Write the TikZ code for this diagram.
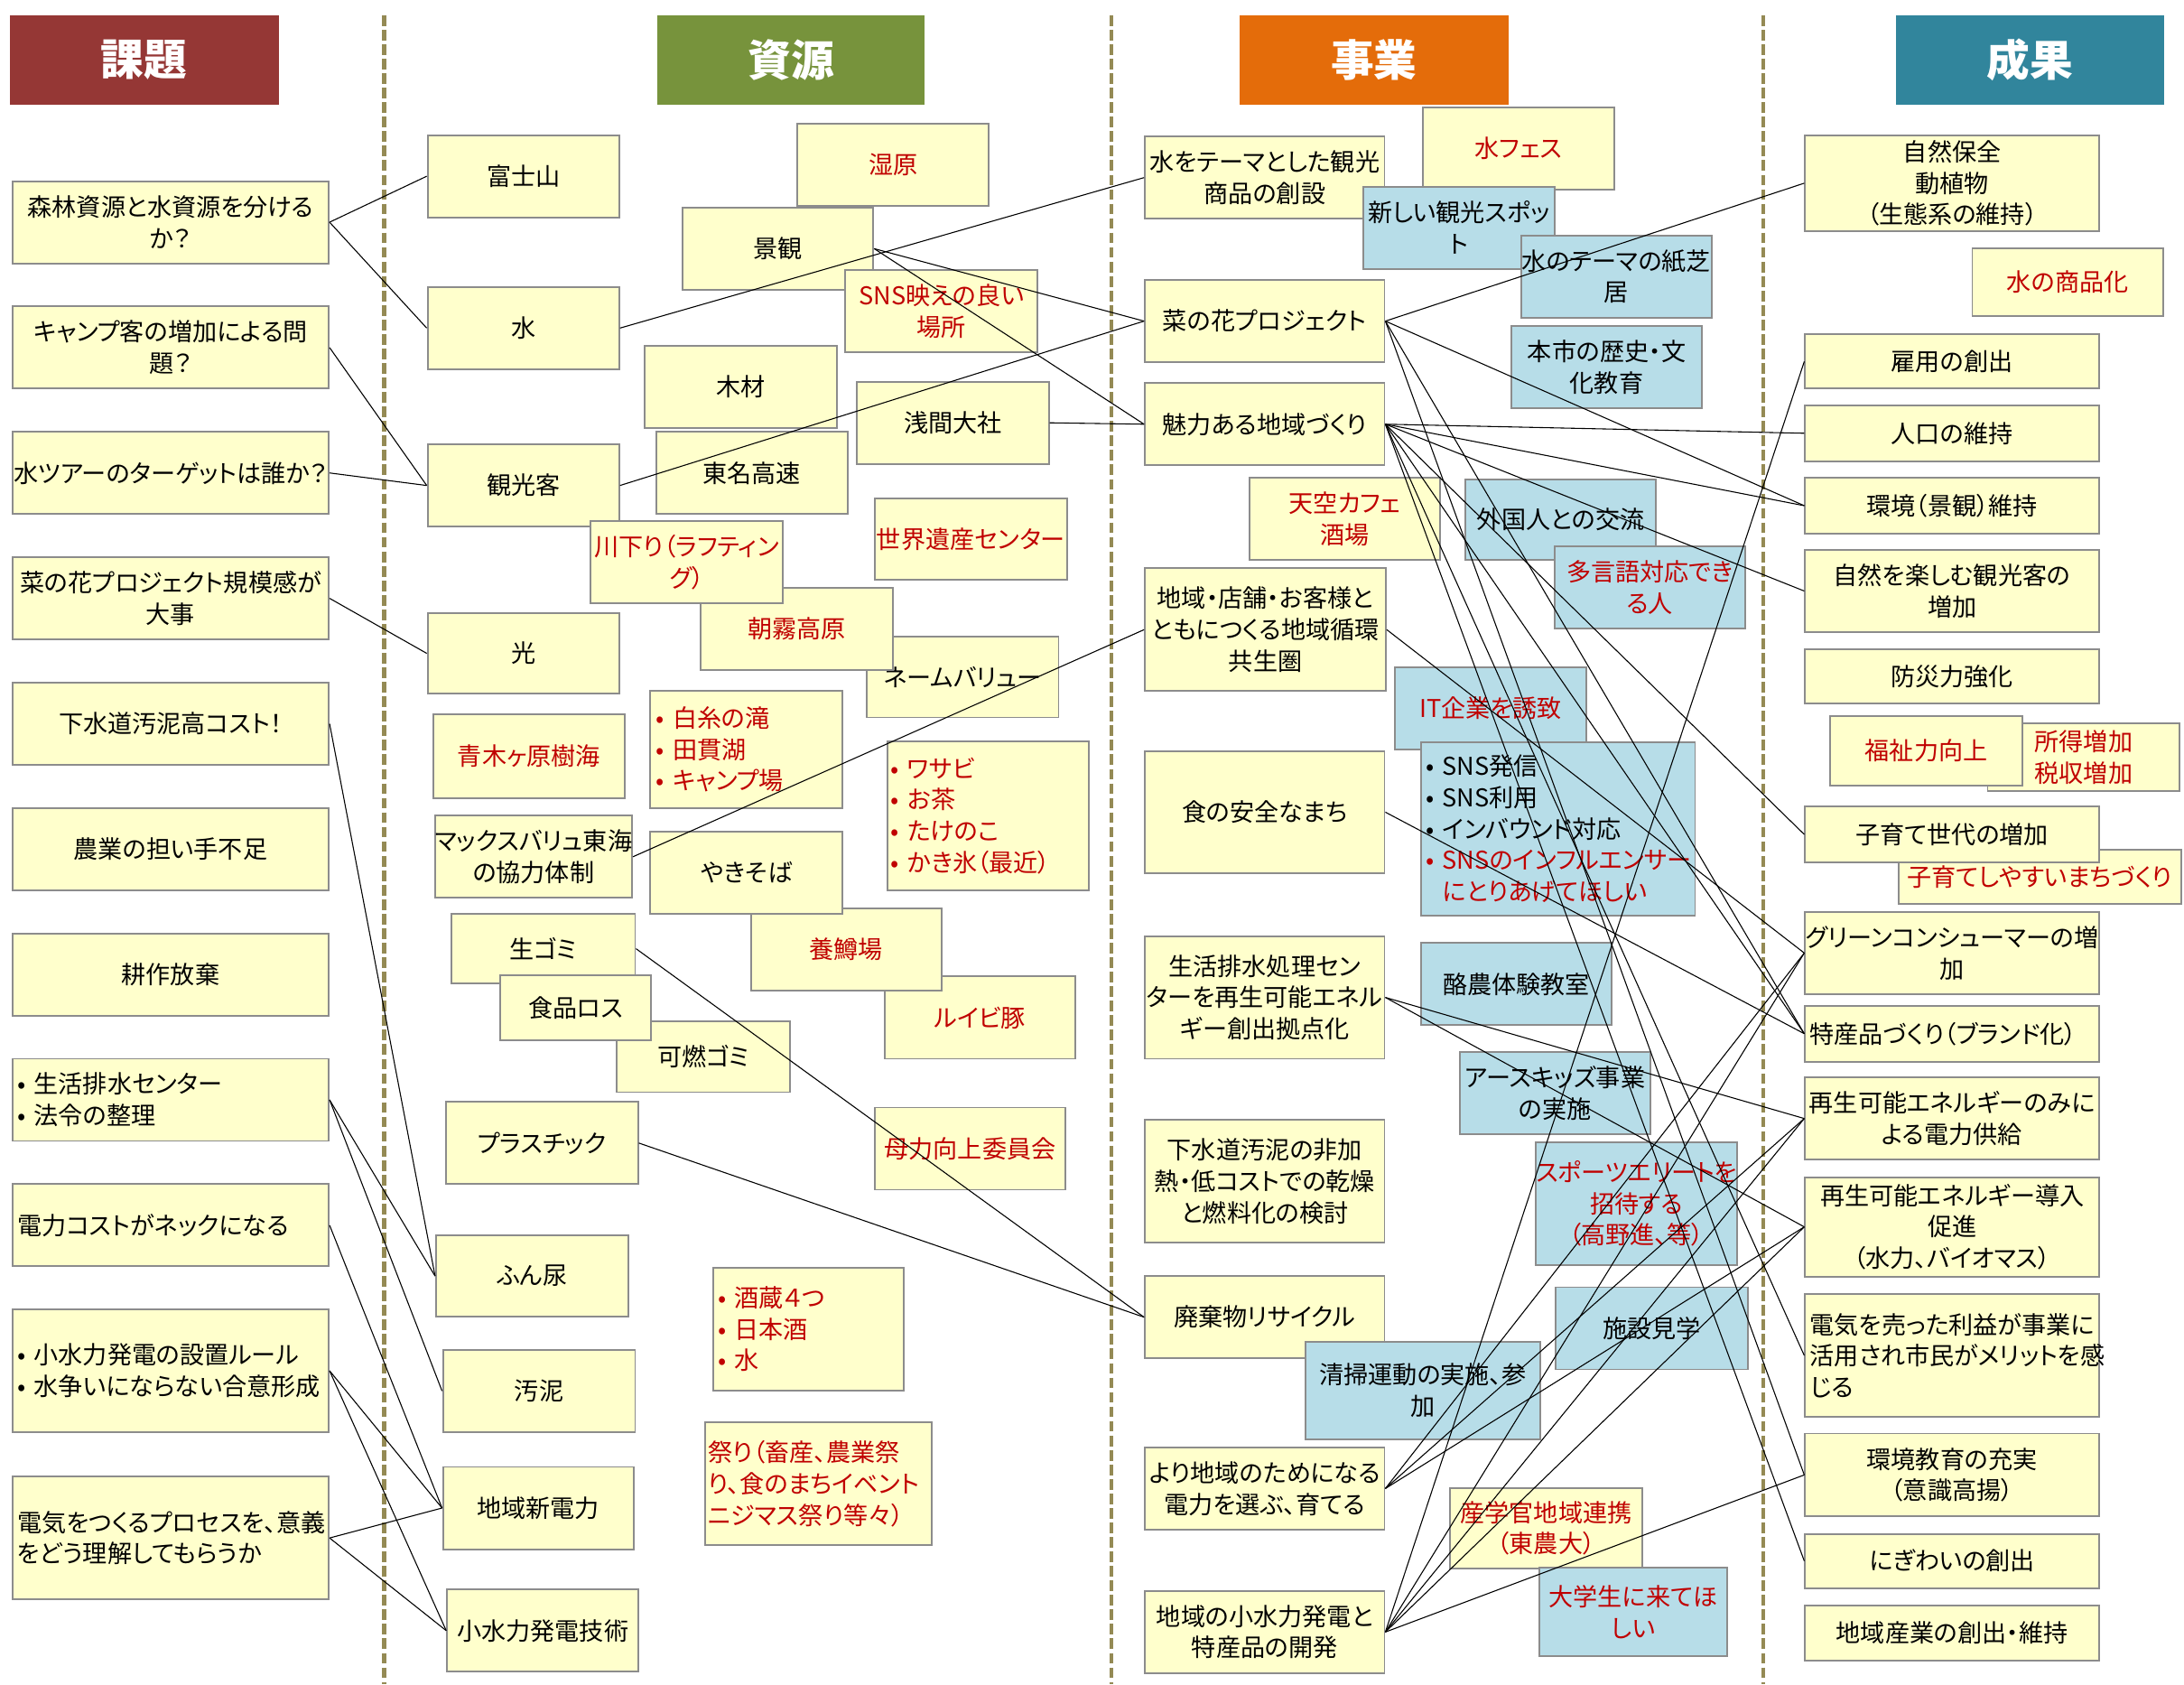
\documentclass[tikz,border=0pt]{standalone}
\usepackage{fontspec}
\setmainfont{Noto Sans CJK JP}[RawFeature=+palt]
\definecolor{boxfill}{HTML}{FFFFCC}
\definecolor{bluefill}{HTML}{B7DDE8}
\definecolor{boxline}{HTML}{8C8C8C}
\definecolor{redtext}{HTML}{C00000}
\definecolor{kadai}{HTML}{953735}
\definecolor{shigen}{HTML}{77933C}
\definecolor{jigyo}{HTML}{E46C0A}
\definecolor{seika}{HTML}{31859C}
\definecolor{sepcol}{HTML}{948A54}
\newcommand\bul{\makebox[0.3cm][l]{•}}
\tikzset{
  rect/.style n args={4}{at={(0.5*#1+0.5*#3,0.5*#2+0.5*#4)},
    minimum width=(#3-#1)*0.025cm, minimum height=(#4-#2)*0.025cm},
  box/.style={draw=boxline, fill=boxfill, line width=0.9pt, inner sep=0pt,
    align=center, font=\fontsize{12.5}{16}\selectfont},
  bbox/.style={box, fill=bluefill},
  rbox/.style={box, text=redtext},
  head/.style={fill=#1, inner sep=0pt, text=white,
    font=\fontsize{22}{24}\selectfont\bfseries},
  colsep/.style={draw=sepcol, line width=2.2pt, dash pattern=on 0.19cm off 0.07cm},
  link/.style={black, line width=0.5pt}
}
\begin{document}
\begin{tikzpicture}[x=0.025cm, y=-0.025cm]
\fill[white] (0,0) rectangle (1568,1209);
\useasboundingbox (0,0) rectangle (1568,1209);
% column separators
\foreach \sx in {276,798,1266}
  \draw[colsep] (\sx,11) -- (\sx,1209);
% headers
\node[head=kadai, rect={7}{11}{200}{75}] (hK) {課題};
\node[head=shigen, rect={472}{11}{664}{75}] (hS) {資源};
\node[head=jigyo, rect={890}{11}{1083}{75}] (hJ) {事業};
\node[head=seika, rect={1361}{11}{1554}{75}] (hR) {成果};
% 課題
\node[box, rect={9}{130}{236}{189}] (k1) {森林資源と水資源を分ける\\か？};
\node[box, rect={9}{220}{236}{279}] (k2) {キャンプ客の増加による問\\題？};
\node[box, rect={9}{310}{236}{369}] (k3) {水ツアーのターゲットは誰か？};
\node[box, rect={9}{400}{236}{459}] (k4) {菜の花プロジェクト規模感が\\大事};
\node[box, rect={9}{490}{236}{549}] (k5) {下水道汚泥高コスト！};
\node[box, rect={9}{580}{236}{639}] (k6) {農業の担い手不足};
\node[box, rect={9}{670}{236}{729}] (k7) {耕作放棄};
\node[box, align=left, text width=5.5cm, rect={9}{760}{236}{819}] (k8) {\bul 生活排水センター\\\bul 法令の整理};
\node[box, align=left, text width=5.5cm, rect={9}{850}{236}{909}] (k9) {電力コストがネックになる};
\node[box, align=left, text width=5.5cm, rect={9}{940}{236}{1028}] (k10) {\bul 小水力発電の設置ルール\\\bul 水争いにならない合意形成};
\node[box, align=left, text width=5.5cm, rect={9}{1060}{236}{1148}] (k11) {電気をつくるプロセスを、意義\\をどう理解してもらうか};
% 資源
\node[box, rect={307}{97}{444.5}{156}] (fuji) {富士山};
\node[box, rect={307}{206}{444.5}{265}] (mizu) {水};
\node[box, rect={307}{319}{444.5}{378}] (kanko) {観光客};
\node[box, rect={307}{440}{444.5}{498}] (hikari) {光};
\node[rbox, rect={311}{513}{448.5}{573}] (aoki) {青木ヶ原樹海};
\node[box, rect={314}{585.5}{452}{644.5}] (maxv) {マックスバリュ東海\\の協力体制};
\node[box, rect={324}{656}{456}{706}] (namagomi) {生ゴミ};
\node[box, rect={443}{733}{567}{784}] (kanen) {可燃ゴミ};
\node[box, rect={359}{700}{467.5}{747}] (shokuhin) {食品ロス};
\node[box, rect={320}{791}{458}{850}] (plastic) {プラスチック};
\node[box, rect={313}{887}{451}{945}] (funnyo) {ふん尿};
\node[box, rect={318}{969}{456}{1028}] (odei) {汚泥};
\node[box, rect={318}{1053}{455}{1112}] (denryoku) {地域新電力};
\node[box, rect={321}{1141}{458.5}{1200}] (gijutsu) {小水力発電技術};
\node[rbox, rect={572.6}{89}{710}{148}] (shitsugen) {湿原};
\node[box, rect={490}{149}{627}{208}] (keikan) {景観};
\node[rbox, rect={607}{194}{745}{253}] (snsbae) {SNS映えの良い\\場所};
\node[box, rect={463}{248}{601}{307}] (mokuzai) {木材};
\node[box, rect={615}{274}{753}{333}] (sengen) {浅間大社};
\node[box, rect={471}{310}{608.5}{369}] (tomei) {東名高速};
\node[rbox, rect={628}{358}{766}{416}] (isan) {世界遺産センター};
\node[box, rect={622}{457}{760}{515}] (namev) {ネームバリュー};
\node[rbox, rect={503}{422}{641}{481}] (asagiri) {朝霧高原};
\node[rbox, rect={424}{374}{562}{433}] (kawa) {川下り（ラフティン\\グ）};
\node[rbox, align=left, text width=3.25cm, rect={467}{496}{605}{580}] (shiraito) {\bul 白糸の滝\\\bul 田貫湖\\\bul キャンプ場};
\node[rbox, align=left, text width=3.5cm, rect={637}{532}{782}{639}] (wasabi) {\bul ワサビ\\\bul お茶\\\bul たけのこ\\\bul かき氷（最近）};
\node[rbox, rect={635}{701}{772}{760}] (ruibi) {ルイビ豚};
\node[rbox, rect={539}{652}{676}{711}] (yoson) {養鱒場};
\node[box, rect={467}{597}{605}{656}] (yakisoba) {やきそば};
\node[rbox, rect={628}{795}{765}{854}] (boryoku) {母力向上委員会};
\node[rbox, align=left, text width=3.25cm, rect={512}{910}{649}{998}] (sakagura) {\bul 酒蔵４つ\\\bul 日本酒\\\bul 水};
\node[rbox, align=left, text width=3.95cm, rect={506}{1021}{669}{1109}] (matsuri) {祭り（畜産、農業祭\\り、食のまちイベント\\ニジマス祭り等々）};
% 事業
\node[box, rect={822}{98}{994}{157}] (theme) {水をテーマとした観光\\商品の創設};
\node[rbox, rect={1021.5}{77}{1159}{136}] (fes) {水フェス};
\node[bbox, rect={979}{134}{1116}{193}] (spot) {新しい観光スポッ\\ト};
\node[bbox, rect={1092}{169}{1229}{228}] (kamishibai) {水のテーマの紙芝\\居};
\node[bbox, rect={1085}{234}{1222}{293}] (rekishi) {本市の歴史・文\\化教育};
\node[box, rect={822}{201}{994}{260}] (nanohana) {菜の花プロジェクト};
\node[box, rect={822}{275}{994}{334}] (miryoku) {魅力ある地域づくり};
\node[rbox, rect={897}{343}{1034}{402}] (tenku) {天空カフェ\\酒場};
\node[bbox, rect={1052}{344}{1189}{402}] (gaikoku) {外国人との交流};
\node[bbox, text=redtext, rect={1116}{392}{1253}{451}] (tagengo) {多言語対応でき\\る人};
\node[box, rect={822}{408}{995}{496}] (junkan) {地域・店舗・お客様と\\ともにつくる地域循環\\共生圏};
\node[bbox, text=redtext, rect={1001.5}{479}{1139}{538}] (itk) {IT企業を誘致};
\node[bbox, align=left, text width=4.75cm, rect={1020.5}{533}{1217}{657}] (sns) {\bul SNS発信\\\bul SNS利用\\\bul インバウンド対応\\\textcolor{redtext}{\bul SNSのインフルエンサー}\\\textcolor{redtext}{\hspace{0.3cm}にとりあげてほしい}};
\node[box, rect={822}{539}{994}{627}] (shoku) {食の安全なまち};
\node[box, rect={822}{672}{994}{760}] (haisui) {生活排水処理セン\\ターを再生可能エネル\\ギー創出拠点化};
\node[bbox, rect={1020.5}{677}{1157}{736}] (rakuno) {酪農体験教室};
\node[bbox, rect={1048}{755}{1185}{814}] (earth) {アースキッズ事業\\の実施};
\node[box, rect={822}{804}{994}{892}] (gesui) {下水道汚泥の非加\\熱・低コストでの乾燥\\と燃料化の検討};
\node[bbox, text=redtext, rect={1106}{820}{1244}{908}] (sports) {スポーツエリートを\\招待する\\（高野進、等）};
\node[box, rect={822}{916}{994}{975}] (haiki) {廃棄物リサイクル};
\node[bbox, rect={1117}{924}{1255}{983}] (shisetsu) {施設見学};
\node[bbox, rect={937}{963}{1106}{1033}] (seiso) {清掃運動の実施、参\\加};
\node[box, rect={822}{1039}{994}{1098}] (yori) {より地域のためになる\\電力を選ぶ、育てる};
\node[rbox, rect={1041}{1068}{1179}{1126}] (sangaku) {産学官地域連携\\（東農大）};
\node[bbox, text=redtext, rect={1105}{1125}{1240}{1189}] (daigaku) {大学生に来てほ\\しい};
\node[box, rect={822}{1142}{994}{1201}] (kohatsu) {地域の小水力発電と\\特産品の開発};
% 成果
\node[box, rect={1296}{97}{1507}{166}] (shizen) {自然保全\\動植物\\（生態系の維持）};
\node[rbox, rect={1416}{178}{1553}{227}] (shohinka) {水の商品化};
\node[box, rect={1296}{240}{1507}{279}] (koyo) {雇用の創出};
\node[box, rect={1296}{291}{1507}{331}] (jinko) {人口の維持};
\node[box, rect={1296}{343}{1507}{383}] (kankyo) {環境（景観）維持};
\node[box, rect={1296}{395}{1507}{453.5}] (tanoshimu) {自然を楽しむ観光客の\\増加};
\node[box, rect={1296}{466}{1507}{505}] (bosai) {防災力強化};
\node[rbox, rect={1427}{519}{1565}{568}] (shotoku) {所得増加\\税収増加};
\node[rbox, rect={1314}{514}{1452}{564}] (fukushi) {福祉力向上};
\node[rbox, rect={1363}{610}{1566}{649}] (kosodate2) {子育てしやすいまちづくり};
\node[box, rect={1296}{579}{1507}{619}] (kosodate) {子育て世代の増加};
\node[box, rect={1296}{654.6}{1507}{713.6}] (green) {グリーンコンシューマーの増\\加};
\node[box, align=left, text width=5.1cm, rect={1296}{722}{1507}{762}] (tokusan) {特産品づくり（ブランド化）};
\node[box, rect={1296}{773.6}{1507}{832.2}] (saiseimi) {再生可能エネルギーのみに\\よる電力供給};
\node[box, rect={1296}{845}{1507}{916.4}] (saiseido) {再生可能エネルギー導入\\促進\\（水力、バイオマス）};
\node[box, align=left, text width=5.1cm, rect={1296}{929}{1507}{1017}] (denki) {電気を売った利益が事業に\\活用され市民がメリットを感\\じる};
\node[box, rect={1296}{1029}{1507}{1088.5}] (kyoiku) {環境教育の充実\\（意識高揚）};
\node[box, rect={1296}{1101}{1507}{1140}] (nigiwai) {にぎわいの創出};
\node[box, rect={1296}{1152.5}{1507}{1192}] (sangyo) {地域産業の創出・維持};
% 課題 -> 資源
\draw[link] (k1.east) edge (fuji.west) edge (mizu.west);
\draw[link] (k2.east) edge (kanko.west);
\draw[link] (k3.east) edge (kanko.west);
\draw[link] (k4.east) edge (hikari.west);
\draw[link] (k5.east) edge (funnyo.west);
\draw[link] (k8.east) edge (funnyo.west) edge (odei.west);
\draw[link] (k9.east) edge (denryoku.west);
\draw[link] (k10.east) edge (denryoku.west) edge (gijutsu.west);
\draw[link] (k11.east) edge (denryoku.west) edge (gijutsu.west);
% 資源 -> 事業
\draw[link] (mizu.east) edge (theme.west);
\draw[link] (keikan.east) edge (nanohana.west) edge (miryoku.west);
\draw[link] (kanko.east) edge (nanohana.west);
\draw[link] (sengen.east) edge (miryoku.west);
\draw[link] (maxv.east) edge (junkan.west);
\draw[link] (namagomi.east) edge (haiki.west);
\draw[link] (plastic.east) edge (haiki.west);
% 事業 -> 成果
\draw[link] (nanohana.east) edge (shizen.west) edge (kankyo.west)
  edge (tokusan.west) edge (kyoiku.west);
\draw[link] (miryoku.east) edge (jinko.west) edge (kankyo.west)
  edge (tanoshimu.west) edge (kosodate.west) edge (tokusan.west)
  edge (denki.west) edge (nigiwai.west);
\draw[link] (junkan.east) edge (green.west);
\draw[link] (shoku.east) edge (tokusan.west);
\draw[link] (haisui.east) edge (saiseimi.west) edge (saiseido.west);
\draw[link] (yori.east) edge (green.west) edge (saiseimi.west) edge (saiseido.west);
\draw[link] (kohatsu.east) edge (koyo.west) edge (green.west)
  edge (saiseimi.west) edge (saiseido.west) edge (kyoiku.west);
\end{tikzpicture}
\end{document}
